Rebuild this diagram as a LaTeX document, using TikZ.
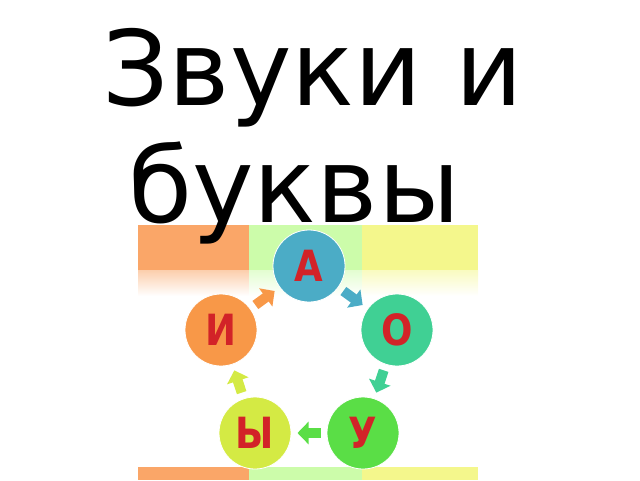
\documentclass[tikz,border=0pt]{standalone}
\usepackage{fontspec}
\setmainfont{DejaVu Sans}
\newfontfamily\lettrefont[FakeStretch=0.86]{DejaVu Sans Bold}
\usetikzlibrary{arrows.meta}

\definecolor{BandeOrange}{RGB}{250,166,104}
\definecolor{BandeVert}{RGB}{204,252,170}
\definecolor{BandeJaune}{RGB}{244,247,140}
\definecolor{CouleurA}{RGB}{75,172,198}
\definecolor{CouleurO}{RGB}{64,208,148}
\definecolor{CouleurU}{RGB}{90,222,70}
\definecolor{CouleurY}{RGB}{212,234,68}
\definecolor{CouleurI}{RGB}{248,152,72}
\definecolor{LettreRouge}{RGB}{210,35,40}

\begin{document}
\begin{tikzpicture}[x=1pt,y=-1pt]
    \tikzset{BandeStyle/.style =   {fill=#1}}
    \tikzset{BandeFondu/.style =   {top color=#1!55,bottom color=white}}
    \tikzset{CercleLettre/.style = {circle,minimum size=72pt,inner sep=0pt,outer sep=0pt,
        fill=#1,draw=white,line width=0.8pt,text=LettreRouge,font=\lettrefont\fontsize{43}{43}\selectfont}}
    \tikzset{FlecheBloc/.style =   {line width=10pt,color=#1,shorten <=6.5pt,shorten >=6.5pt,
        -{Triangle[width=22pt,length=11pt]}}}
    \tikzset{TitreStyle/.style =   {anchor=base west,inner sep=0pt,font=\fontsize{104}{104}\selectfont}}

    \useasboundingbox (0,0) rectangle (640,480);

    % bandes du fond
    \fill[BandeStyle=BandeOrange] (138,225) rectangle (249,270);
    \fill[BandeStyle=BandeVert]   (249,225) rectangle (362,270);
    \fill[BandeStyle=BandeJaune]  (362,225) rectangle (478,270);
    \shade[BandeFondu=BandeOrange] (138,270) rectangle (249,296);
    \shade[BandeFondu=BandeVert]   (249,270) rectangle (362,296);
    \shade[BandeFondu=BandeJaune]  (362,270) rectangle (478,296);
    \fill[BandeStyle=BandeOrange] (138,467) rectangle (249,480);
    \fill[BandeStyle=BandeVert]   (249,467) rectangle (362,480);
    \fill[BandeStyle=BandeJaune]  (362,467) rectangle (478,480);

    \node[TitreStyle] (titre1) at (102,105) {Звуки и};
    \node[TitreStyle] (titre2) at (128,222) {буквы};

    \node[CercleLettre=CouleurA] (a) at (309,266) {А};
    \node[CercleLettre=CouleurO] (o) at (397,330) {О};
    \node[CercleLettre=CouleurU] (u) at (363,433) {У};
    \node[CercleLettre=CouleurY] (y) at (255,433) {Ы};
    \node[CercleLettre=CouleurI] (i) at (221,330) {И};

    \draw[FlecheBloc=CouleurA] (a) -- (o);
    \draw[FlecheBloc=CouleurO] (o) -- (u);
    \draw[FlecheBloc=CouleurU] (u) -- (y);
    \draw[FlecheBloc=CouleurY] (y) -- (i);
    \draw[FlecheBloc=CouleurI] (i) -- (a);
\end{tikzpicture}
\end{document}
